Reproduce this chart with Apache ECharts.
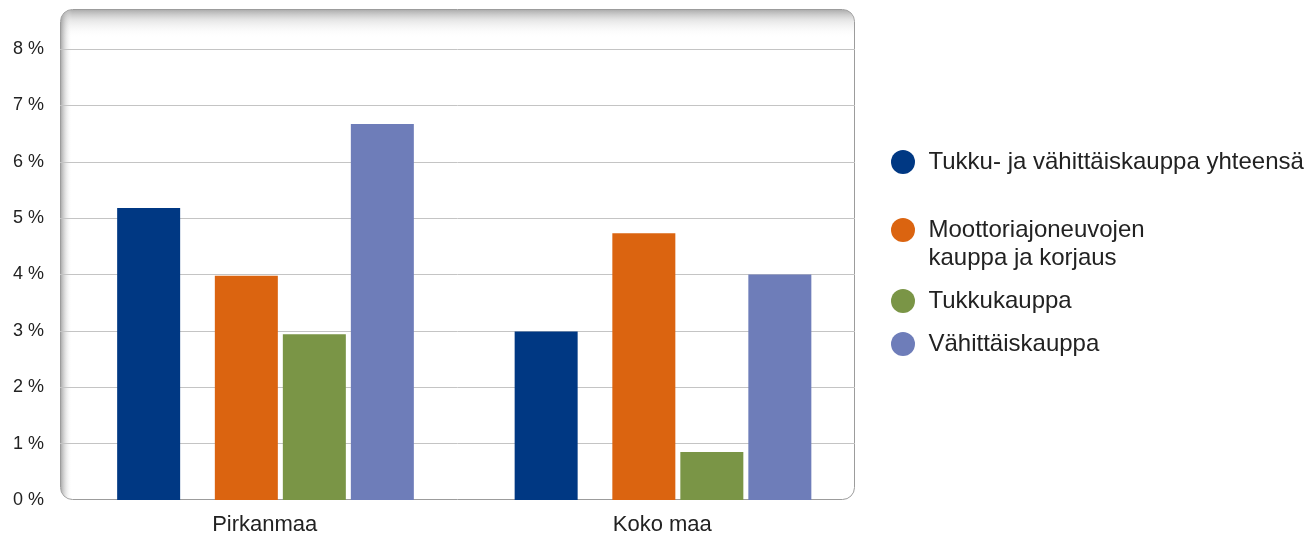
<!DOCTYPE html>
<html>
<head>
<meta charset="utf-8">
<script src="https://cdn.jsdelivr.net/npm/echarts@6/dist/echarts.min.js"></script>
<style>
html,body{margin:0;padding:0;background:#fff;}
#chart{width:1308px;height:538px;}
</style>
</head>
<body>
<div id="chart"></div>
<script>
// ---- data ----
const categories = ['Pirkanmaa', 'Koko maa'];
const seriesNames = ['Tukku- ja vähittäiskauppa yhteensä', 'Moottoriajoneuvojen\nkauppa ja korjaus', 'Tukkukauppa', 'Vähittäiskauppa'];
const totalValues = [5.18, 2.99];
const motorValues = [3.98, 4.73];
const wholesaleValues = [2.94, 0.85];
const retailValues = [6.67, 4.00];
const yTicks = [0, 1, 2, 3, 4, 5, 6, 7, 8];

// ---- style ----
const colors = ['#003883', '#db6410', '#7a9546', '#6e7db9'];
const FONT = 'Liberation Sans, Arial, sans-serif';
const TEXT = '#222222';
const GL = 60, GR = 855, GT = 49, GB = 500, BOX_TOP = 9;
const BAR_W = 63;
const GAP = (5 / BAR_W * 100).toFixed(2) + '%';

const chart = echarts.init(document.getElementById('chart'), null, {renderer: 'canvas'});

function bar(name, data, color, width) {
  return {
    type: 'bar', name: name, data: data, barWidth: width, barGap: GAP,
    itemStyle: {color: color}, silent: name === '' , emphasis: {disabled: true}
  };
}

const legendText = {color: TEXT, fontSize: 24, fontFamily: FONT, lineHeight: 28};

const option = {
  animation: false,
  textStyle: {fontFamily: FONT},
  grid: {left: GL, right: 1308 - GR, top: GT, bottom: 538 - GB, containLabel: false},
  xAxis: {
    type: 'category', data: categories,
    axisLine: {show: false}, axisTick: {show: false},
    axisLabel: {color: TEXT, fontSize: 22, fontFamily: FONT, margin: 14, padding: [0, 0, 0, 12]}
  },
  yAxis: {
    type: 'value', min: yTicks[0], max: yTicks[yTicks.length - 1], interval: 1,
    axisLine: {show: false}, axisTick: {show: false},
    axisLabel: {color: TEXT, fontSize: 18, fontFamily: FONT, margin: 16, formatter: '{value} %'},
    splitLine: {showMinLine: false, lineStyle: {color: '#c4c4c4', width: 1}}
  },
  legend: [{
    data: [seriesNames[0]],
    orient: 'vertical', left: 886, top: 143,
    icon: 'circle', itemWidth: 41, itemHeight: 24,
    textStyle: legendText,
    selectedMode: false
  }, {
    data: seriesNames.slice(1),
    orient: 'vertical', left: 886, top: 183, itemGap: 15,
    icon: 'circle', itemWidth: 41, itemHeight: 24,
    textStyle: legendText,
    formatter: function (n) { return n.indexOf('\n') >= 0 ? '\n' + n : n; },
    selectedMode: false
  }],
  graphic: [
    {type: 'rect', z: -10, shape: {x: GL + 0.5, y: BOX_TOP + 0.5, width: GR - GL - 1, height: GB - BOX_TOP - 1, r: 12},
     style: {fill: '#ffffff', stroke: '#9c9c9c', lineWidth: 1}},
    {type: 'rect', z: -9, shape: {x: GL + 1, y: BOX_TOP + 1, width: GR - GL - 2, height: 28, r: [11, 11, 0, 0]},
     style: {fill: new echarts.graphic.LinearGradient(0, 0, 0, 1, [
       {offset: 0, color: 'rgba(140,140,140,0.7)'}, {offset: 0.35, color: 'rgba(190,190,190,0.4)'}, {offset: 1, color: 'rgba(255,255,255,0)'}])}},
    {type: 'rect', z: -9, shape: {x: GL + 1, y: BOX_TOP + 1, width: 11, height: GB - BOX_TOP - 2, r: [11, 0, 0, 11]},
     style: {fill: new echarts.graphic.LinearGradient(0, 0, 1, 0, [
       {offset: 0, color: 'rgba(140,140,140,0.7)'}, {offset: 1, color: 'rgba(255,255,255,0)'}])}}
  ],
  series: [
    bar('', ['-', '-'], 'rgba(0,0,0,0)', 12.5),
    bar(seriesNames[0], totalValues, colors[0], BAR_W),
    bar('', ['-', '-'], 'rgba(0,0,0,0)', 27.5),
    bar(seriesNames[1], motorValues, colors[1], BAR_W),
    bar(seriesNames[2], wholesaleValues, colors[2], BAR_W),
    bar(seriesNames[3], retailValues, colors[3], BAR_W)
  ]
};
chart.setOption(option);
</script>
</body>
</html>
